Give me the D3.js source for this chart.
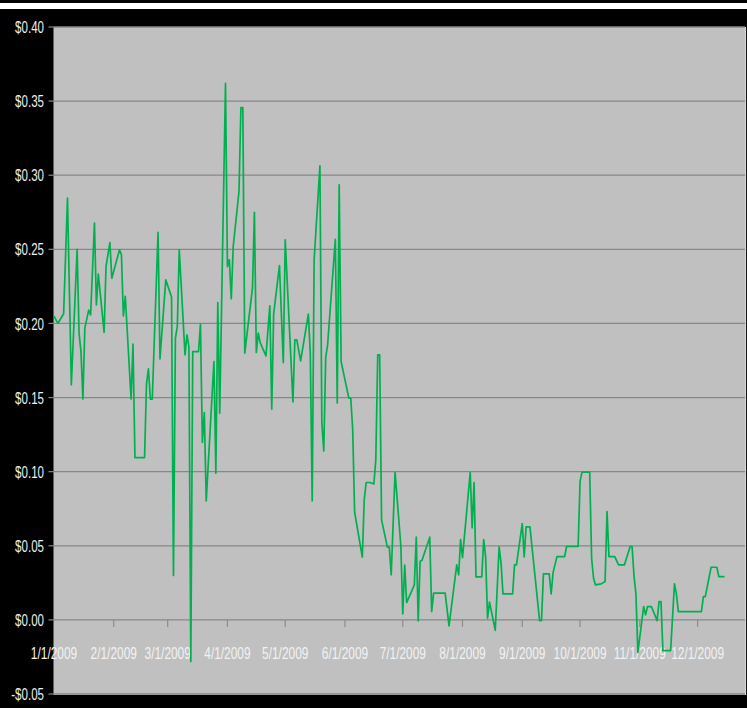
<!DOCTYPE html>
<html>
<head>
<meta charset="utf-8">
<script src="https://cdn.jsdelivr.net/npm/d3@7"></script>
<style>
  html, body { margin: 0; padding: 0; background: #000; }
  svg { display: block; }
  text { font-family: "Liberation Sans", Arial, sans-serif; }
</style>
</head>
<body>
<svg id="chart" width="747" height="708"></svg>
<script>
// ---- data (day offset from 1/1/2009, price in $) ----
const dayOfYear = [0,2,5,7,9,12,13,14,15,16,18,19,21,22,23,26,27,29,30,34,35,36,37,40,41,42,47,48,49,50,51,54,55,58,61,62,63,64,65,68,69,70,71,72,75,76,77,78,79,83,84,85,86,89,90,91,92,93,96,97,98,99,103,104,105,106,107,110,112,113,114,117,119,120,124,125,126,128,132,133,134,135,138,139,140,141,142,146,147,148,149,153,154,155,156,160,161,162,164,166,167,168,169,170,173,174,175,177,180,181,182,183,187,188,189,190,191,195,196,197,203,205,209,210,211,212,216,217,218,219,222,223,224,225,226,229,231,232,233,238,239,240,243,244,245,247,252,253,254,257,258,259,261,265,266,272,273,274,278,279,280,281,284,286,287,288,291,293,296,299,300,301,302,303,306,307,308,310,313,314,315,316,320,322,323,324,336,337,338,341,344,345,348];
const prices = [0.205,0.200,0.2065,0.2845,0.1586,0.250,0.1935,0.181,0.149,0.1968,0.209,0.2058,0.2677,0.2125,0.2333,0.194,0.2384,0.2546,0.2305,0.2497,0.2463,0.2051,0.2182,0.149,0.186,0.1095,0.1095,0.1592,0.1694,0.149,0.149,0.2614,0.1761,0.2294,0.2178,0.030,0.190,0.198,0.2497,0.1788,0.1923,0.1844,-0.028,0.181,0.181,0.1995,0.1197,0.1399,0.0803,0.1743,0.099,0.2141,0.1395,0.362,0.2384,0.2429,0.2166,0.2519,0.289,0.3457,0.3457,0.180,0.2238,0.2749,0.1804,0.1935,0.1871,0.1781,0.2119,0.1422,0.2065,0.2391,0.1736,0.2564,0.147,0.189,0.189,0.1748,0.2063,0.180,0.0803,0.2429,0.3063,0.1327,0.1139,0.177,0.1856,0.2568,0.1464,0.2935,0.1743,0.1496,0.1496,0.129,0.0728,0.0423,0.081,0.0927,0.0927,0.0917,0.108,0.1788,0.1788,0.0675,0.0491,0.0491,0.0304,0.0996,0.050,0.004,0.037,0.0117,0.0236,0.0559,-0.0007,0.0395,0.0402,0.0558,0.0056,0.018,0.018,-0.004,0.0371,0.0304,0.0542,0.042,0.0996,0.062,0.0927,0.029,0.029,0.0542,0.0425,0.0011,0.012,-0.007,0.0493,0.0383,0.0175,0.0175,0.0371,0.0371,0.065,0.0425,0.0627,0.0627,-0.0005,-0.0005,0.031,0.031,0.0175,0.0319,0.0427,0.0427,0.0495,0.0495,0.0934,0.0997,0.0997,0.0416,0.0281,0.0236,0.0243,0.0259,0.0731,0.0427,0.0427,0.0371,0.0371,0.0495,0.0495,0.0297,0.0175,-0.022,0.009,0.0034,0.009,0.009,-0.0005,0.0124,0.0124,-0.0207,-0.0207,0.0243,0.0175,0.0056,0.0056,0.0157,0.0157,0.0355,0.0355,0.0292,0.0292];
const yTickValues = [-0.05,0,0.05,0.10,0.15,0.20,0.25,0.30,0.35,0.40];
const xTickMonths = [0,1,2,3,4,5,6,7,8,9,10,11]; // month index in 2009

// ---- layout ----
const W = 747, H = 708;
const plot = { left: 53.5, right: 745, top: 27, bottom: 694 };
const DAY = 86400000;
const start = Date.UTC(2009, 0, 1);

const svg = d3.select("#chart");
svg.append("rect").attr("width", W).attr("height", H).attr("fill", "#000");
svg.append("rect").attr("x", 0).attr("y", 3).attr("width", W).attr("height", 6).attr("fill", "#ffffff");

const x = d3.scaleUtc()
  .domain([new Date(start), new Date(start + 358.6 * DAY)])
  .range([54, plot.right]);
const y = d3.scaleLinear().domain([-0.05, 0.40]).range([plot.bottom, plot.top]);

// plot area
svg.append("rect")
  .attr("x", plot.left).attr("y", plot.top)
  .attr("width", plot.right - plot.left).attr("height", plot.bottom - plot.top)
  .attr("fill", "#c0c0c0");
svg.append("path")
  .attr("d", `M${plot.right + 0.5},${plot.top} V${plot.bottom + 0.5} H${plot.left}`)
  .attr("fill", "none").attr("stroke", "#d4d4d4").attr("stroke-width", 1.2);

// gridlines
svg.append("g").selectAll("line").data(yTickValues).join("line")
  .attr("x1", plot.left).attr("x2", plot.right)
  .attr("y1", d => y(d)).attr("y2", d => y(d))
  .attr("stroke", "#878787").attr("stroke-width", 1.3);

// y tick marks + labels
const fmt = v => (v < 0 ? "-$" : "$") + Math.abs(v).toFixed(2);
svg.append("g").selectAll("line").data(yTickValues).join("line")
  .attr("x1", plot.left - 5).attr("x2", plot.left)
  .attr("y1", d => y(d)).attr("y2", d => y(d))
  .attr("stroke", "#878787").attr("stroke-width", 1.2);
svg.append("g").selectAll("text").data(yTickValues).join("text")
  .attr("transform", d => `translate(44,${y(d)}) scale(0.68,1)`)
  .attr("text-anchor", "end").attr("dy", "0.36em")
  .attr("font-size", 17).attr("fill", "#eeeeee")
  .text(fmt);

// x tick marks on the zero line + labels
const monthDates = xTickMonths.map(m => new Date(Date.UTC(2009, m, 1)));
svg.append("g").selectAll("line").data(monthDates.slice(1)).join("line")
  .attr("x1", d => x(d)).attr("x2", d => x(d))
  .attr("y1", y(0)).attr("y2", y(0) + 7)
  .attr("stroke", "#8c8c8c").attr("stroke-width", 1.2);
const xfmt = d3.utcFormat("%-m/%-d/%Y");
svg.append("g").selectAll("text").data(monthDates).join("text")
  .attr("transform", d => `translate(${x(d)},659) scale(0.7,1)`)
  .attr("text-anchor", "middle")
  .attr("font-size", 17).attr("fill", "#f2f2f2")
  .text(xfmt);

// series line
const pts = dayOfYear.map((d, i) => ({ date: new Date(start + d * DAY), v: prices[i] }));
const line = d3.line().x(d => x(d.date)).y(d => y(d.v));
svg.append("path")
  .datum(pts)
  .attr("d", line)
  .attr("fill", "none")
  .attr("stroke", "#00b050")
  .attr("stroke-width", 1.7)
  .attr("stroke-linejoin", "round");
</script>
</body>
</html>
